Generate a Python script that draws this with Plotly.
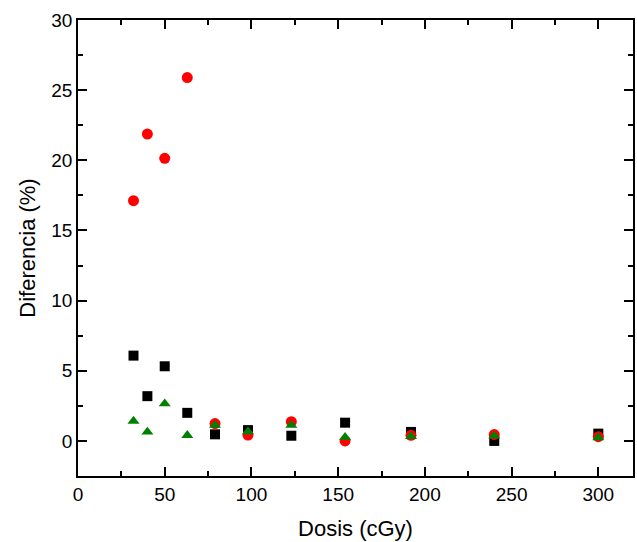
import plotly.graph_objects as go

dose = [32, 40, 50, 63, 79, 98, 123, 154, 192, 240, 300]
poly2 = [6.08, 3.19, 5.32, 2.0, 0.47, 0.77, 0.37, 1.3, 0.64, 0.0, 0.52]
poly25 = [17.12, 21.87, 20.14, 25.9, 1.24, 0.42, 1.37, 0.0, 0.4, 0.45, 0.3]
poly3 = [1.42, 0.64, 2.65, 0.4, 1.12, 0.66, 1.12, 0.26, 0.33, 0.36, 0.24]

x_range = [0, 320]
y_range = [-2.5, 30]

series = [
    ("Poly 2", poly2, "square", 10, "#000000"),
    ("Poly 2.5", poly25, "circle", 11, "#ff0000"),
    ("Poly 3", poly3, "triangle-up", 10.5, "#008000"),
]

FONT = "Liberation Sans, Arial, sans-serif"

fig = go.Figure()
for name, ys, sym, sz, col in series:
    fig.add_trace(go.Scatter(
        x=dose, y=ys, mode="markers", name=name,
        marker=dict(symbol=sym, size=sz, color=col),
    ))

fig.update_layout(
    width=637, height=542,
    margin=dict(l=78, r=2, t=20, b=66),
    plot_bgcolor="white",
    showlegend=False,
    xaxis=dict(
        range=x_range, dtick=50, showline=True, linecolor="black", linewidth=1.5, mirror="allticks",
        ticks="inside", ticklen=9, tickwidth=1.6, tickcolor="black",
        minor=dict(ticks="inside", ticklen=5, dtick=25, tickwidth=1.6, tickcolor="black"),
        showgrid=False, zeroline=False,
        tickfont=dict(family=FONT, size=19, color="black"),
        title=dict(text="Dosis (cGy)", font=dict(family=FONT, size=22, color="black"), standoff=17),
    ),
    yaxis=dict(
        range=y_range, dtick=5, showline=True, linecolor="black", linewidth=1.5, mirror="allticks",
        ticks="inside", ticklen=9, tickwidth=1.6, tickcolor="black",
        minor=dict(ticks="inside", ticklen=5, dtick=2.5, tickwidth=1.6, tickcolor="black"),
        showgrid=False, zeroline=False,
        tickfont=dict(family=FONT, size=19, color="black"),
        title=dict(text="Diferencia (%)", font=dict(family=FONT, size=22, color="black"), standoff=10),
    ),
)

fig.write_html("out.html")
